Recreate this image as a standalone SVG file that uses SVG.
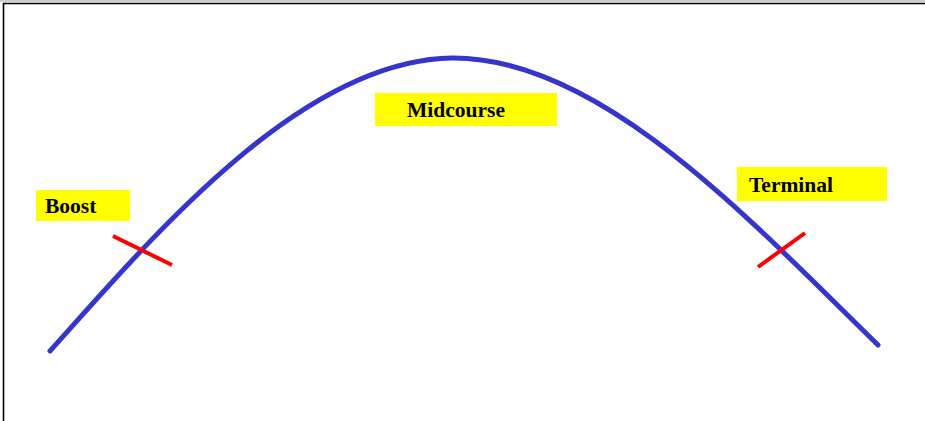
<svg xmlns="http://www.w3.org/2000/svg" width="925" height="421" viewBox="0 0 925 421">
<style>
.lbl{fill:#ffff00}
.txt{font-family:"Liberation Serif",serif;font-weight:bold;font-size:21.5px;fill:#000}
.tick{stroke:#ff0000;stroke-width:4;fill:none}
.traj{stroke:#3535cc;stroke-width:5;fill:none;stroke-linecap:round;stroke-linejoin:round}
</style>
<rect x="0" y="0" width="925" height="421" fill="#ffffff"/>
<rect x="0" y="0" width="925" height="2" fill="#c8d0d4"/>
<path d="M3.5,421 V3.5 H925" fill="none" stroke="#000" stroke-width="1.6"/>
<g id="connectors">
<path class="traj" d="M50,351 C150,240 300,60 452,58 C600,57 750,220 878,345"/>
<line class="tick" x1="113" y1="236" x2="172" y2="265"/>
<line class="tick" x1="758" y1="267" x2="805" y2="233"/>
</g>
<g id="boost">
<rect class="lbl" x="36" y="190" width="94" height="31"/>
<text class="txt" x="45" y="213">Boost</text>
</g>
<g id="midcourse">
<rect class="lbl" x="375" y="93" width="182" height="33"/>
<text class="txt" x="407" y="117">Midcourse</text>
</g>
<g id="terminal">
<rect class="lbl" x="737" y="167" width="150" height="34"/>
<text class="txt" x="749" y="192">Terminal</text>
</g>
</svg>
